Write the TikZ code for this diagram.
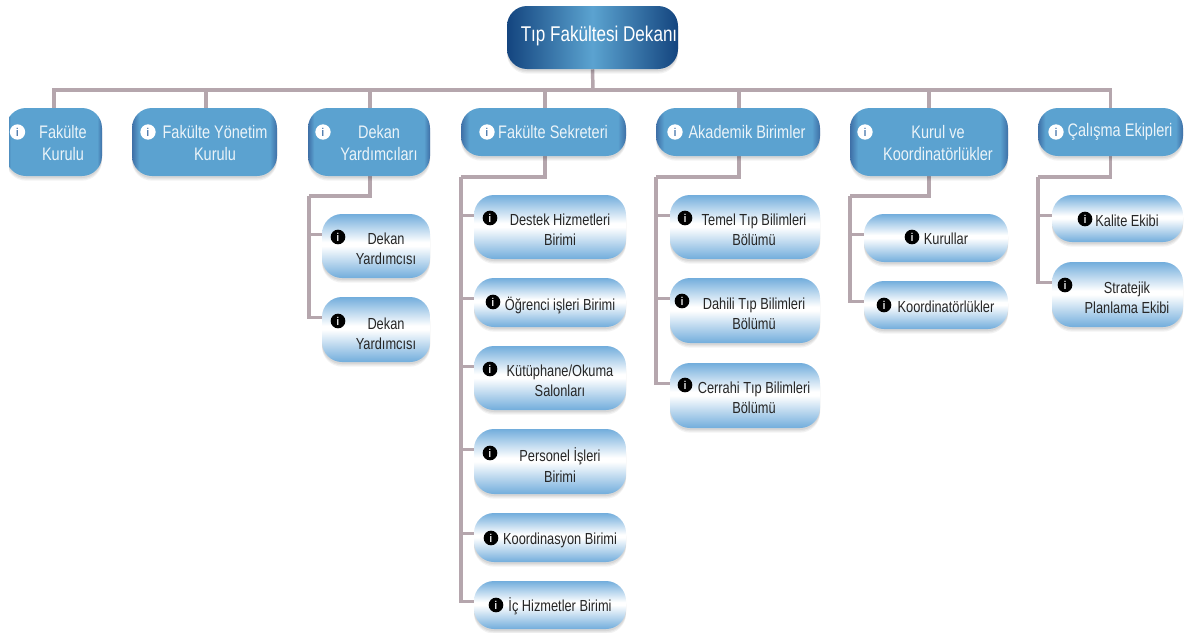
\documentclass[tikz,border=0pt]{standalone}
\usepackage{fontspec}
\setmainfont[FakeStretch=0.8]{Liberation Sans}
\usetikzlibrary{backgrounds,shadows}
\definecolor{rootdark}{HTML}{14457F}
\definecolor{rootlight}{HTML}{5BA3D0}
\definecolor{pdark}{HTML}{3E6FA6}
\definecolor{pmid}{HTML}{5BA2D0}
\definecolor{lblue}{HTML}{72ADDC}
\definecolor{conn}{HTML}{B5A6AD}
\pgfdeclarehorizontalshading{rootsh}{100bp}{color(0bp)=(rootdark);color(25bp)=(rootdark);color(50bp)=(rootlight);color(75bp)=(rootdark);color(100bp)=(rootdark)}
\pgfdeclarehorizontalshading{parsh}{100bp}{color(0bp)=(pdark);color(25bp)=(pdark);color(27.5bp)=(pmid);color(72.5bp)=(pmid);color(75bp)=(pdark);color(100bp)=(pdark)}
\pgfdeclareverticalshading{leafsh}{100bp}{color(0bp)=(lblue);color(25bp)=(lblue);color(50bp)=(white);color(53bp)=(white);color(75bp)=(lblue);color(100bp)=(lblue)}
\tikzset{
  x=0.75pt,y=-0.75pt,
  softshadow/.style={
    preaction={draw=none,fill=black,fill opacity=.05,transform canvas={yshift=-3.5pt}},
    preaction={draw=none,fill=black,fill opacity=.05,transform canvas={yshift=-2.5pt}},
    preaction={draw=none,fill=black,fill opacity=.06,transform canvas={yshift=-1.5pt}}},
  boxbase/.style={rectangle,rounded corners=15pt,inner sep=0pt,draw=none,softshadow},
  rootbox/.style={boxbase,shading=rootsh},
  parbox/.style={boxbase,shading=parsh},
  leafbox/.style={boxbase,shading=leafsh},
  wire/.style={draw=conn,line width=2.6pt},
  infow/.style={circle,fill=white,inner sep=0pt,minimum size=11.5pt,text=pdark,font=\bfseries\fontsize{8.5}{8.5}\selectfont},
  infob/.style={circle,fill=black,inner sep=0pt,minimum size=11pt,text=white,font=\bfseries\fontsize{8.5}{8.5}\selectfont},
  parlabel/.style={text=white!88!pmid,align=center,inner sep=0pt,font=\fontsize{13.6}{16}\selectfont},
  leaflabel/.style={text=black!85,align=center,inner sep=0pt,font=\fontsize{12}{15.2}\selectfont},
}
\newcommand{\bx}[6]{\node[#2,minimum width={(#5-#3)*0.75pt},minimum height={(#6-#4)*0.75pt}] (#1) at ({(#3+#5)/2},{(#4+#6)/2}) {};}
\newcommand{\branch}[2]{\draw[wire] (#1) |- ([yshift=-15.75pt]#2.north west);}
\begin{document}
\begin{tikzpicture}
\useasboundingbox (0,0) rectangle (1184,632);
% top level
\bx{root}{rootbox}{507}{6}{678}{69}
\bx{fk}{parbox}{6}{108}{102}{176}
\bx{fy}{parbox}{132}{108}{277}{176}
\bx{dy}{parbox}{308}{108}{430}{176}
\bx{fs}{parbox}{461}{108}{626}{156}
\bx{ab}{parbox}{656}{108}{820}{156}
\bx{kk}{parbox}{850}{108}{1008}{176}
\bx{ce}{parbox}{1038}{108}{1183}{156}
% second level
\bx{dy1}{leafbox}{322}{214}{430}{278}
\bx{dy2}{leafbox}{322}{297}{430}{362}
\bx{fs1}{leafbox}{474}{195}{626}{259}
\bx{fs2}{leafbox}{474}{278}{626}{327}
\bx{fs3}{leafbox}{474}{346}{626}{410}
\bx{fs4}{leafbox}{474}{429}{626}{494}
\bx{fs5}{leafbox}{474}{513}{626}{562}
\bx{fs6}{leafbox}{474}{581}{626}{629}
\bx{ab1}{leafbox}{670}{195}{820}{259}
\bx{ab2}{leafbox}{670}{278}{820}{343}
\bx{ab3}{leafbox}{670}{363}{820}{428}
\bx{kk1}{leafbox}{864}{214}{1008}{262}
\bx{kk2}{leafbox}{864}{281}{1008}{329}
\bx{ce1}{leafbox}{1052}{195}{1183}{242}
\bx{ce2}{leafbox}{1052}{262}{1183}{327}
% crop at the left edge
\fill[white] (0,100) rectangle (9,190);
% junctions
\coordinate (bus) at (593,90);
\coordinate (dyt) at (309,196);
\coordinate (fst) at (461,177);
\coordinate (abt) at (656,177);
\coordinate (kkt) at (850,196);
\coordinate (cet) at (1038,177);
\begin{scope}[on background layer]
\fill[white] (0,0) rectangle (1184,632);
\draw[wire] (root.south) -- (bus);
\foreach \n/\d in {fk/0,fy/1.1,dy/0.8,fs/1.1,ab/0.8,kk/0,ce/0} {\draw[wire] (bus) -| ([xshift=\d pt]\n.north);}
\draw[wire] ([xshift=0.8pt]dy.south) |- (dyt);
\draw[wire] ([xshift=1.1pt]fs.south) |- (fst);
\draw[wire] ([xshift=0.8pt]ab.south) |- (abt);
\draw[wire] (kk.south) |- (kkt);
\draw[wire] (ce.south) |- (cet);
\foreach \n in {dy1,dy2} {\branch{dyt}{\n}}
\foreach \n in {fs1,fs2,fs3,fs4,fs5,fs6} {\branch{fst}{\n}}
\foreach \n in {ab1,ab2,ab3} {\branch{abt}{\n}}
\foreach \n in {kk1,kk2} {\branch{kkt}{\n}}
\foreach \n in {ce1,ce2} {\branch{cet}{\n}}
\end{scope}
% labels
\node[text=white,inner sep=0pt,font=\fontsize{16}{18}\selectfont] (rootl) at (599,36) {Tıp Fakültesi Dekanı};
\node[parlabel] (fkl) at (63,143) {Fakülte\\Kurulu};
\node[parlabel] (fyl) at (215,143) {Fakülte Yönetim\\Kurulu};
\node[parlabel] (dyl) at (379,143) {Dekan\\Yardımcıları};
\node[parlabel] (fsl) at (553,132) {Fakülte Sekreteri};
\node[parlabel] (abl) at (747,132) {Akademik Birimler};
\node[parlabel] (kkl) at (938,143) {Kurul ve\\Koordinatörlükler};
\node[parlabel] (cel) at (1120,132) {Çalışma Ekipleri};
\node[leaflabel] (dy1l) at (386,249) {Dekan\\Yardımcısı};
\node[leaflabel] (dy2l) at (386,334) {Dekan\\Yardımcısı};
\node[leaflabel] (fs1l) at (560,230) {Destek Hizmetleri\\Birimi};
\node[leaflabel] (fs2l) at (560,305) {Öğrenci işleri Birimi};
\node[leaflabel] (fs3l) at (560,381) {Kütüphane/Okuma\\Salonları};
\node[leaflabel] (fs4l) at (560,465) {Personel İşleri\\Birimi};
\node[leaflabel] (fs5l) at (560,540) {Koordinasyon Birimi};
\node[leaflabel] (fs6l) at (560,606) {İç Hizmetler Birimi};
\node[leaflabel] (ab1l) at (754,230) {Temel Tıp Bilimleri\\Bölümü};
\node[leaflabel] (ab2l) at (754,314) {Dahili Tıp Bilimleri\\Bölümü};
\node[leaflabel] (ab3l) at (754,398) {Cerrahi Tıp Bilimleri\\Bölümü};
\node[leaflabel] (kk1l) at (946,239) {Kurullar};
\node[leaflabel] (kk2l) at (946,307) {Koordinatörlükler};
\node[leaflabel] (ce1l) at (1127,221) {Kalite Ekibi};
\node[leaflabel] (ce2l) at (1127,298) {Stratejik\\Planlama Ekibi};
% info icons
\node[infow] (i1) at (17.5,132) {i};
\node[infow] (i2) at (148,132) {i};
\node[infow] (i3) at (323,132) {i};
\node[infow] (i4) at (487,132) {i};
\node[infow] (i5) at (675,132) {i};
\node[infow] (i6) at (865,132) {i};
\node[infow] (i7) at (1056,132) {i};
\node[infob] (j1) at (338,237) {i};
\node[infob] (j2) at (338,321) {i};
\node[infob] (j3) at (490,218) {i};
\node[infob] (j4) at (493,302) {i};
\node[infob] (j5) at (490,369) {i};
\node[infob] (j6) at (490,453) {i};
\node[infob] (j7) at (491,538) {i};
\node[infob] (j8) at (496,605) {i};
\node[infob] (j9) at (685,218) {i};
\node[infob] (j10) at (682,301) {i};
\node[infob] (j11) at (685,385) {i};
\node[infob] (j12) at (912,237) {i};
\node[infob] (j13) at (884,305) {i};
\node[infob] (j14) at (1085,219) {i};
\node[infob] (j15) at (1065,285) {i};
\end{tikzpicture}
\end{document}
